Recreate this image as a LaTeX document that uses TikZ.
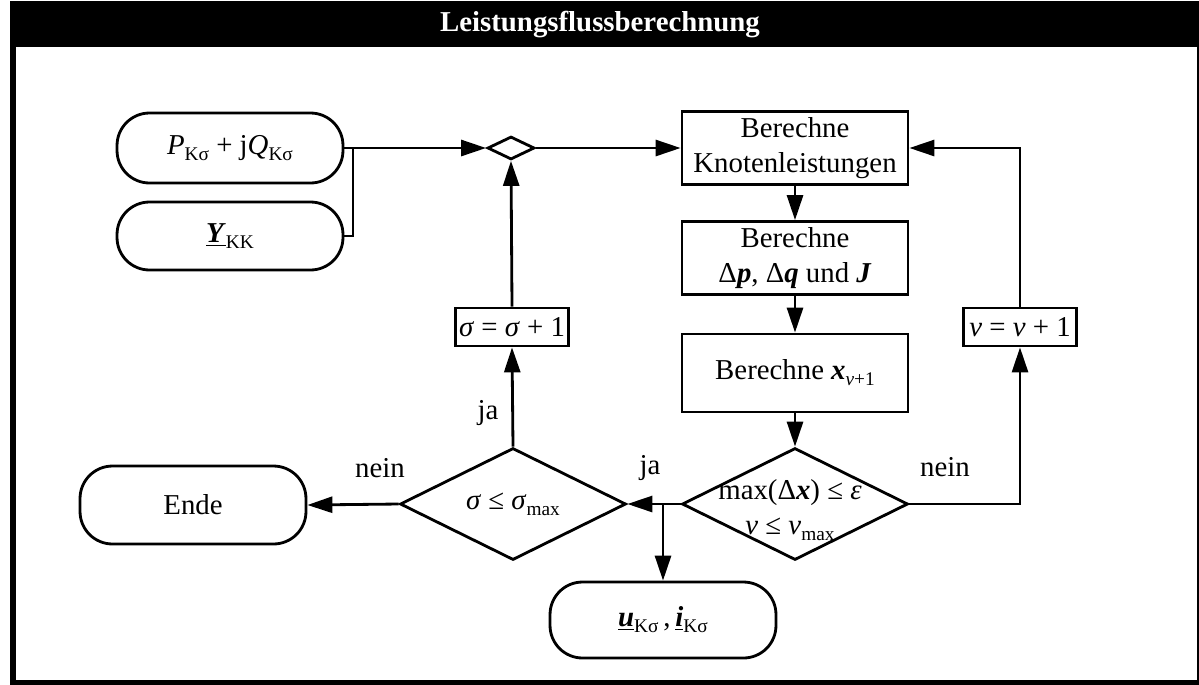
\documentclass[tikz,border=0pt]{standalone}
\usepackage{fontspec}
\setmainfont{Liberation Serif}
\usetikzlibrary{shapes, shapes.geometric, arrows.meta}
\newcommand{\idx}[1]{\raisebox{-0.45ex}{\fontsize{11}{11}\selectfont #1}}
\newcommand{\bvec}[1]{\textbf{\textit{#1}}}

\begin{document}
\begin{tikzpicture}[x=0.02cm, y=-0.02cm, line width=1.6pt,
  font=\fontsize{16.4}{20}\selectfont,
  term/.style={draw, rounded corners=0.65cm, minimum width=4.52cm, minimum height=1.4cm},
  proc/.style={draw, minimum width=4.52cm, align=center},
  cond/.style={draw, diamond, inner sep=0pt, minimum width=4.52cm, minimum height=2.24cm},
  incr/.style={draw, minimum width=2.26cm, minimum height=0.76cm, inner sep=0pt},
  arr/.style={-{Triangle[length=5mm, width=3.2mm]}}]
\useasboundingbox (0,0) rectangle (1199,684);

\fill (10,1) rectangle (1200,47);
\draw[line width=0.12cm] (13,4) rectangle (1200,683);
\node[text=white, font=\fontsize{16.4}{20}\selectfont\bfseries] (title) at (600,25) {Leistungsflussberechnung};

\node[term] (PQ) at (230,148) {\textit{P}\idx{Kσ} + j\textit{Q}\idx{Kσ}};
\node[term, minimum height=1.36cm] (Y) at (230,236) {\underline{\bvec{Y}}\idx{KK}};
\node[draw, diamond, inner sep=0pt, minimum width=0.94cm, minimum height=0.46cm] (merge) at (511,148) {};
\node[proc, minimum height=1.46cm] (knot) at (795,148) {Berechne\\Knotenleistungen};
\node[proc, minimum height=1.42cm] (calc) at (795,258) {Berechne\\Δ\bvec{p}, Δ\bvec{q} und \bvec{J}};
\node[proc, minimum height=1.56cm] (xnew) at (795,373) {Berechne \bvec{x}\idx{\textit{ν}+1}};
\node[cond] (conv) at (795,504) {};
\node[align=center] (convtxt) at (790,510) {max(Δ\bvec{x}) ≤ \textit{ε}\\\textit{ν} ≤ \textit{ν}\idx{max}};
\node[cond] (sig) at (513,504) {};
\node (sigtxt) at (513,504) {\textit{σ} ≤ \textit{σ}\idx{max}};
\node[incr] (sigup) at (512,327) {\textit{σ} = \textit{σ} + 1};
\node[incr] (nuup) at (1020,327) {\textit{ν} = \textit{ν} + 1};
\node[term, minimum height=1.56cm] (ende) at (193,505) {Ende};
\node[term, minimum height=1.52cm] (ui) at (663,620) {\underline{\bvec{u}}\idx{Kσ}\,,\,\underline{\bvec{i}}\idx{Kσ}};

\coordinate (jn) at (353,148);
\coordinate (br) at (663,504);

\draw[arr] (PQ.east) -- (merge.west);
\draw (Y.east) -| (jn);
\draw[arr] (merge.east) -- (knot.west);
\draw[arr] (knot.south) -- (calc.north);
\draw[arr] (calc.south) -- (xnew.north);
\draw[arr] (xnew.south) -- (conv.north);
\draw (conv.west) -- (br);
\draw[arr] (br) -- (sig.east);
\draw[arr] (br) -- (ui.north);
\draw[arr] (sig.north) -- (sigup.south);
\draw[arr] (sigup.north) -- (merge.south);
\draw[arr] (sig.west) -- (ende.east);
\draw[arr] (conv.east) -| (nuup.south);
\draw[arr] (nuup.north) |- (knot.east);

\node (nein1) at (380,468) {nein};
\node (ja1) at (488,413) {ja};
\node (ja2) at (650,468) {ja};
\node (nein2) at (945,467) {nein};
\end{tikzpicture}
\end{document}
